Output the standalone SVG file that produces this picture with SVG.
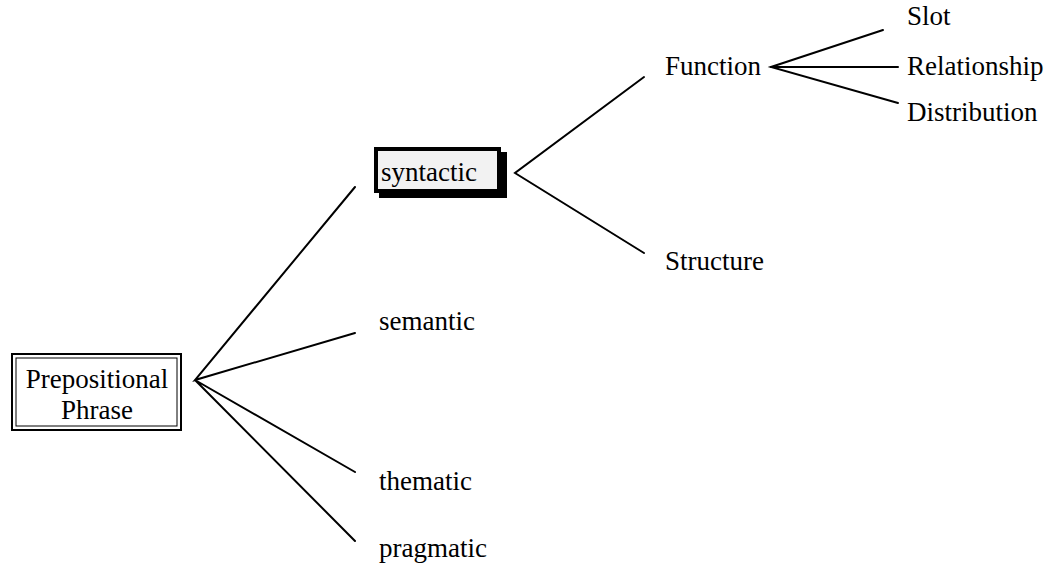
<svg xmlns="http://www.w3.org/2000/svg" width="1046" height="573" viewBox="0 0 1046 573">
  <style>
    .lbl { font-family: 'Liberation Serif', 'Times New Roman', serif; font-size: 27px; fill: #000; }
    .edge { stroke: #000; stroke-width: 2; fill: none; stroke-linecap: round; }
  </style>
  <rect width="1046" height="573" fill="#fff"/>

  <!-- connectors -->
  <g id="connectors">
    <polyline class="edge" points="355,187 195,380 355,333"/>
    <polyline class="edge" points="355,472 195,380 355,541"/>
    <polyline class="edge" points="644,77 515,173 644,253"/>
    <polyline class="edge" points="883,30 771,67 898,103"/>
    <line class="edge" x1="771" y1="67" x2="898" y2="67"/>
  </g>

  <g class="lbl">
    <!-- root node: double-bordered box -->
    <g id="prepositional-phrase">
      <rect x="12" y="354" width="169" height="76" fill="#fff" stroke="#000" stroke-width="2"/>
      <rect x="16" y="358" width="161" height="68" fill="none" stroke="#000" stroke-width="1"/>
      <text x="97" y="388" text-anchor="middle">Prepositional</text>
      <text x="97" y="419" text-anchor="middle">Phrase</text>
    </g>

    <!-- highlighted node with drop shadow -->
    <g id="syntactic">
      <rect x="379" y="152" width="128" height="46" fill="#000"/>
      <rect x="376" y="149" width="123" height="42" fill="#f2f2f2" stroke="#000" stroke-width="4"/>
      <text x="381" y="181">syntactic</text>
    </g>

    <g id="semantic"><text x="379" y="330">semantic</text></g>
    <g id="thematic"><text x="379" y="490">thematic</text></g>
    <g id="pragmatic"><text x="379" y="557">pragmatic</text></g>

    <g id="function"><text x="665" y="75">Function</text></g>
    <g id="structure"><text x="665" y="270">Structure</text></g>

    <g id="slot"><text x="907" y="24.5">Slot</text></g>
    <g id="relationship"><text x="907" y="75">Relationship</text></g>
    <g id="distribution"><text x="907" y="121">Distribution</text></g>
  </g>
</svg>
